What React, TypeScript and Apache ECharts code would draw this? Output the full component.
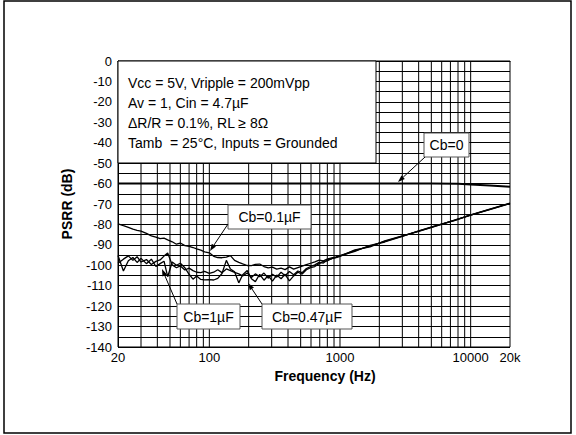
import React, { useEffect, useRef } from "react";
import * as echarts from "echarts";

const freqs = [
  20, 22, 24, 26, 28, 30, 33, 36, 39, 42, 45, 48, 52, 56, 60, 65, 70, 75, 80, 86, 92, 100,
  108, 116, 125, 135, 145, 156, 168, 180, 195, 210, 225, 243, 262, 282, 304, 328, 354, 380,
  410, 442, 476, 513, 553, 596, 642, 692, 746, 804, 866, 933, 1000, 1300, 1700, 2200, 3000,
  4000, 5500, 7500, 10000, 14000, 20000,
];

const psrrCb01 = [
  -79.7, -80.6, -81.4, -82.3, -82.9, -83.3, -84.4, -85.6, -86.2, -87.0, -86.7, -87.6, -88.5,
  -89.7, -89.1, -90.4, -90.7, -91.3, -92.0, -92.6, -93.4, -93.9, -95.6, -96.2, -96.3, -96.0,
  -95.3, -97.6, -98.6, -99.3, -100.1, -100.2, -99.6, -99.4, -100.6, -101.3, -100.9, -101.9,
  -101.4, -102.1, -100.8, -101.9, -101.1, -100.4, -99.7, -99.0, -98.3, -97.5, -97.8, -96.9,
  -96.4, -95.9, -95.3, -92.8, -90.6, -88.3, -85.7, -83.3, -80.6, -78.0, -75.4, -72.6, -69.7,
];

const psrrCb1 = [
  -99.0, -97.0, -95.4, -97.6, -95.8, -98.4, -97.2, -99.6, -98.1, -97.4, -95.5, -94.0, -99.8,
  -101.2, -100.3, -102.3, -101.4, -102.6, -103.4, -103.6, -103.0, -104.0, -103.4, -102.2,
  -103.6, -101.8, -102.6, -103.5, -104.2, -105.2, -103.8, -106.0, -104.2, -105.6, -103.8,
  -106.3, -104.4, -105.8, -103.4, -105.1, -103.0, -104.6, -102.8, -103.6, -101.6, -100.6,
  -99.8, -98.6, -98.9, -97.3, -96.8, -96.1, -95.4, -93.2, -90.2, -88.6, -85.8, -83.2, -80.5,
  -78.1, -75.3, -72.5, -69.6,
];

const psrrCb047 = [
  -95.2, -102.8, -97.8, -96.2, -98.6, -96.6, -99.2, -97.0, -100.6, -99.2, -98.0, -105.6, -98.4,
  -100.0, -99.0, -101.2, -104.4, -106.8, -105.2, -106.9, -107.1, -107.0, -107.2, -106.4, -104.0,
  -97.6, -101.8, -103.2, -108.6, -104.6, -102.6, -106.6, -108.0, -104.4, -107.3, -105.0, -107.8,
  -104.8, -106.6, -104.4, -107.6, -105.2, -103.4, -104.3, -102.2, -101.2, -100.6, -99.2, -98.1,
  -97.8, -96.6, -96.3, -95.6, -92.5, -91.0, -88.1, -85.6, -83.4, -80.7, -77.9, -75.5, -72.7,
  -69.8,
];

const cb0Freqs = [20, 100, 1000, 5000, 8000, 10000, 14000, 20000];
const psrrCb0 = [-60, -60, -60, -60, -60.1, -60.4, -60.9, -61.5];

const gridFreqs = [
  30, 40, 50, 60, 70, 80, 90, 100, 200, 300, 400, 500, 600, 700, 800, 900, 1000, 2000, 3000,
  4000, 5000, 6000, 7000, 8000, 9000, 10000,
];

const infoLines = [
  "Vcc = 5V, Vripple = 200mVpp",
  "Av = 1, Cin = 4.7\u00B5F",
  "\u0394R/R = 0.1%, RL \u2265 8\u03A9",
  "Tamb  = 25\u00B0C, Inputs = Grounded",
];

const FONT = "'Liberation Sans', Arial, Helvetica, sans-serif";

function arrow(x1: number, y1: number, x2: number, y2: number) {
  const ang = Math.atan2(y2 - y1, x2 - x1);
  const len = 7;
  const hw = 2.5;
  const bx = x2 - len * Math.cos(ang);
  const by = y2 - len * Math.sin(ang);
  const px = -Math.sin(ang) * hw;
  const py = Math.cos(ang) * hw;
  return [
    {
      type: "line",
      z: 100,
      shape: { x1, y1, x2: bx, y2: by },
      style: { stroke: "#000", lineWidth: 1 },
    },
    {
      type: "polygon",
      z: 100,
      shape: { points: [[x2, y2], [bx + px, by + py], [bx - px, by - py]] },
      style: { fill: "#000" },
    },
  ];
}

function labelBox(x: number, y: number, w: number, h: number, text: string) {
  return [
    {
      type: "rect",
      z: 100,
      shape: { x, y, width: w, height: h },
      style: { fill: "#fff", stroke: "#555", lineWidth: 1 },
    },
    {
      type: "text",
      z: 101,
      x: x + w / 2,
      y: y + h / 2,
      style: {
        text,
        fill: "#000",
        font: `14px ${FONT}`,
        align: "center",
        verticalAlign: "middle",
      },
    },
  ];
}

export default function App() {
  const ref = useRef<HTMLDivElement>(null);

  useEffect(() => {
    if (!ref.current) return;
    const chart = echarts.init(ref.current, undefined, { renderer: "svg" });

    const lineSeries = (name: string, xs: number[], ys: number[], width: number) => ({
      name,
      type: "line",
      data: xs.map((f, i) => [f, ys[i]]),
      showSymbol: false,
      symbol: "none",
      z: 3,
      lineStyle: { color: "#000", width },
    });

    const graphics: any[] = [
      {
        type: "rect",
        z: 100,
        shape: { x: 4, y: 1, width: 567, height: 432 },
        style: { fill: "none", stroke: "#000", lineWidth: 1.5 },
      },
      {
        type: "rect",
        z: 100,
        shape: { x: 118, y: 61, width: 258, height: 102 },
        style: { fill: "#fff", stroke: "#000", lineWidth: 1 },
      },
      ...infoLines.map((t, i) => ({
        type: "text",
        z: 101,
        x: 128,
        y: 83 + i * 20,
        style: { text: t, fill: "#000", font: `14px ${FONT}`, verticalAlign: "middle" },
      })),
      ...labelBox(424, 133, 45, 24, "Cb=0"),
      ...arrow(425, 157, 398, 182),
      ...labelBox(228, 205, 83, 24, "Cb=0.1\u00B5F"),
      ...arrow(228, 224, 210, 251),
      ...labelBox(177, 304, 63, 25, "Cb=1\u00B5F"),
      ...arrow(177, 304, 162, 269),
      ...labelBox(262, 304, 90, 25, "Cb=0.47\u00B5F"),
      ...arrow(262, 304, 248, 283),
    ];

    chart.setOption({
      animation: false,
      textStyle: { fontFamily: FONT },
      grid: {
        left: 118,
        top: 61,
        width: 392,
        height: 286,
        show: true,
        borderColor: "#000",
        borderWidth: 1,
        backgroundColor: "#fff",
      },
      xAxis: {
        type: "log",
        logBase: 10,
        min: 20,
        max: 20000,
        name: "Frequency (Hz)",
        nameLocation: "middle",
        nameGap: 20,
        nameTextStyle: {
          color: "#000",
          fontSize: 14,
          fontWeight: "bold",
          fontFamily: FONT,
          padding: [0, 0, 0, 22],
        },
        axisLine: { show: true, lineStyle: { color: "#000", width: 1 } },
        axisTick: { show: false },
        splitLine: { show: false },
        axisLabel: {
          color: "#000",
          fontSize: 13,
          fontFamily: FONT,
          margin: 4,
          showMinLabel: true,
          showMaxLabel: true,
          hideOverlap: false,
          formatter: (v: number) => {
            const r = Math.round(v);
            return r >= 20000 ? "20k" : String(r);
          },
        },
      },
      yAxis: {
        type: "value",
        min: -140,
        max: 0,
        interval: 5,
        name: "PSRR (dB)",
        nameLocation: "middle",
        nameGap: 44,
        nameTextStyle: { color: "#000", fontSize: 14, fontWeight: "bold", fontFamily: FONT },
        axisLine: { show: true, lineStyle: { color: "#000", width: 1 } },
        axisTick: { show: false },
        splitLine: { show: true, lineStyle: { color: "#000", width: 1 } },
        axisLabel: {
          color: "#000",
          fontSize: 13,
          fontFamily: FONT,
          margin: 6,
          interval: 0,
          formatter: (v: number) => (Math.round(v) % 10 === 0 ? String(Math.round(v)) : ""),
        },
      },
      series: [
        {
          type: "custom",
          z: 1,
          silent: true,
          data: gridFreqs.map((f) => [f]),
          renderItem: (_p: any, api: any) => {
            const a = api.coord([api.value(0), 0]);
            const b = api.coord([api.value(0), -140]);
            return {
              type: "line",
              shape: { x1: a[0], y1: a[1], x2: b[0], y2: b[1] },
              style: { stroke: "#000", lineWidth: 1 },
            };
          },
        },
        lineSeries("Cb=0", cb0Freqs, psrrCb0, 2),
        lineSeries("Cb=0.1\u00B5F", freqs, psrrCb01, 1.3),
        lineSeries("Cb=0.47\u00B5F", freqs, psrrCb047, 1.3),
        lineSeries("Cb=1\u00B5F", freqs, psrrCb1, 1.3),
      ],
      graphic: { elements: graphics },
    });

    return () => chart.dispose();
  }, []);

  return (
    <div
      ref={ref}
      style={{ position: "fixed", left: 0, top: 0, width: 576, height: 435, background: "#fff" }}
    />
  );
}
